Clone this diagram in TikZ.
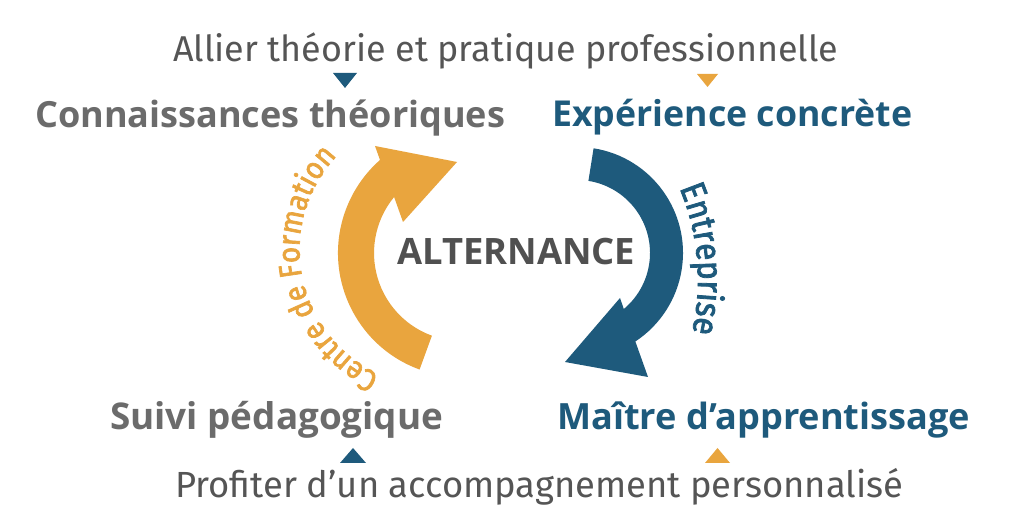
\documentclass[tikz,border=0pt]{standalone}
\usepackage{fontspec}
\setmainfont{Open Sans}
\newfontfamily\regfont{Fira Sans}
\newfontfamily\curvefont{Fira Sans}[FakeBold=2.2, FakeStretch=0.9]
\newfontfamily\headfont{Open Sans}
\usetikzlibrary{decorations.text}
\definecolor{orng}{HTML}{E9A53E}
\definecolor{blu}{HTML}{1E5A7C}
\definecolor{gry}{HTML}{6B6B6B}
\definecolor{dgry}{HTML}{505050}
\definecolor{tgry}{HTML}{555555}
\begin{document}
\begin{tikzpicture}[x=1pt,y=1pt,
  head/.style={font=\headfont\bfseries\fontsize{36}{40}\selectfont, anchor=base west, inner sep=0pt},
  sub/.style={font=\regfont\fontsize{34}{38}\selectfont, anchor=base west, inner sep=0pt, text=tgry},
  arc text/.style={decorate, decoration={text along path, text align=center, text color=#1}}]
\useasboundingbox (0,0) rectangle (1024,524);
\fill[white] (0,0) rectangle (1024,524);

% texts
\node[sub] (top) at (173,462) {\resizebox{665pt}{!}{Allier théorie et pratique professionnelle}};
\node[head, text=gry] (conn) at (35,396) {\resizebox{470pt}{!}{Connaissances théoriques}};
\node[head, text=blu] (exp) at (552,397) {\resizebox{360pt}{!}{Expérience concrète}};
\node[head, text=dgry] (alt) at (397,259) {\resizebox{238pt}{!}{ALTERNANCE}};
\node[head, text=gry] (suivi) at (110,94) {\resizebox{333pt}{!}{Suivi pédagogique}};
\node[head, text=blu] (maitre) at (557,94) {\resizebox{413pt}{!}{Maître d’apprentissage}};
\node[sub] (bot) at (175,26) {\resizebox{728pt}{!}{Profiter d’un accompagnement personnalisé}};

% small triangles
\fill[blu] (333,451) -- (357,451) -- (345,436) -- cycle;
\fill[orng] (697,450) -- (718,450) -- (707.5,437) -- cycle;
\fill[blu] (340,61) -- (366,61) -- (353,76) -- cycle;
\fill[orng] (705,61) -- (730,61) -- (717.5,76) -- cycle;

% orange arrow
\fill[orng] ([shift={(462,271)}]250:124pt) arc[start angle=250,end angle=131.4,radius=124pt]
  -- (375,378) -- (457,362) -- (403,302)
  -- ([shift={(462,271)}]140.5:88pt) arc[start angle=140.5,end angle=250,radius=88pt] -- cycle;

% blue arrow
\fill[blu] ([shift={(577,271)}]81:106pt) arc[start angle=81,end angle=-56.6,radius=106pt]
  -- (648,147) -- (565,162) -- (620,226)
  -- ([shift={(577,271)}]-50.1:73pt) arc[start angle=-50.1,end angle=81,radius=73pt] -- cycle;

% curved labels
\path[arc text=orng, decoration={text={|\curvefont\fontsize{31}{34}\selectfont|Centre de Formation}}]
  ([shift={(436.5,274)}]252:137pt) arc[start angle=252,end angle=130,radius=137pt];
\path[arc text=blu, decoration={text={|\curvefont\fontsize{35}{38}\selectfont|Entreprise}}]
  ([shift={(460,244)}]30:238pt) arc[start angle=30,end angle=-20,radius=238pt];
\end{tikzpicture}
\end{document}
